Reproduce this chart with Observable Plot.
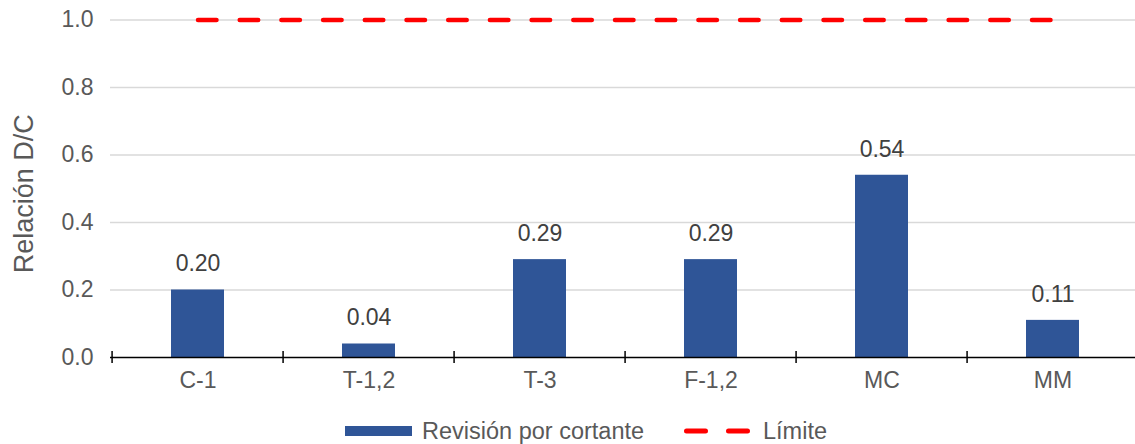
<!DOCTYPE html>
<html>
<head>
<meta charset="utf-8">
<script src="https://cdn.jsdelivr.net/npm/d3@7"></script>
<script src="https://cdn.jsdelivr.net/npm/@observablehq/plot@0.6"></script>
<style>
  html, body { margin: 0; padding: 0; background: #fff; }
  body { width: 1135px; height: 444px; overflow: hidden; font-family: "Liberation Sans", Arial, Helvetica, sans-serif; }
  #chart svg { display: block; }
  #legend { position: relative; height: 44px; font-size: 23.5px; color: #595959; }
  #legend .item { position: absolute; top: 19px; height: 24px; display: flex; align-items: center; }
</style>
</head>
<body>
<div id="chart"></div>
<div id="legend"></div>
<script>
const categories = ["C-1", "T-1,2", "T-3", "F-1,2", "MC", "MM"];
const values = [0.20, 0.04, 0.29, 0.29, 0.54, 0.11];
const limitValues = [1.0, 1.0, 1.0, 1.0, 1.0, 1.0];
const yTicks = [0.0, 0.2, 0.4, 0.6, 0.8, 1.0];
const seriesNames = ["Revisión por cortante", "Límite"];
const yTitle = "Relación D/C";

const W = 1135, H = 400;
const mLeft = 110, mRight = -6;
const step = (W - mRight - mLeft) / categories.length;
const textColor = "#595959";
const barColor = "#2f5597";
const fs = 23;
const fmt1 = d3.format(".1f"), fmt2 = d3.format(".2f");

const chart = Plot.plot({
  width: W,
  height: H,
  marginLeft: mLeft,
  marginRight: mRight,
  marginTop: 19.5,
  marginBottom: 43,
  style: { fontFamily: "'Liberation Sans', Arial, Helvetica, sans-serif", background: "#fff", overflow: "hidden" },
  x: { domain: categories, paddingInner: 0.69, paddingOuter: 0.345, axis: null },
  y: { domain: [0, 1], axis: null },
  marks: [
    Plot.gridY(yTicks.filter(d => d > 0), { stroke: "#d9d9d9", strokeOpacity: 1, strokeWidth: 1.5 }),
    Plot.axisY(yTicks, { tickSize: 0, tickPadding: 17, tickFormat: fmt1, fontSize: fs, color: textColor, label: null }),
    Plot.barY(categories, { x: d => d, y: (d, i) => values[i], fill: barColor }),
    Plot.ruleY([0], { stroke: "#000", strokeWidth: 1.5 }),
    Plot.ruleX(categories, { x: d => d, y1: 0, y2: 0, insetTop: -6, insetBottom: -6, dx: -step / 2, stroke: "#000", strokeWidth: 1.5 }),
    Plot.axisX({ tickSize: 0, tickPadding: 14, fontSize: fs, color: textColor, label: null }),
    Plot.text(categories, { x: d => d, y: (d, i) => values[i], text: (d, i) => fmt2(values[i]), dy: -26, fontSize: fs, fill: "#404040" }),
    Plot.lineY(categories, { x: d => d, y: (d, i) => limitValues[i], stroke: "#ff0000", strokeWidth: 4.5, strokeDasharray: "18.5,23.2", strokeLinecap: "round" }),
    Plot.text([yTitle], { frameAnchor: "left", textAnchor: "middle", lineAnchor: "middle", rotate: -90, dx: -86, dy: 5, fontSize: 27, fill: textColor })
  ]
});
document.getElementById("chart").appendChild(chart);

const legend = document.getElementById("legend");
legend.innerHTML = `
  <div class="item" style="left:345px">
    <span style="display:inline-block;width:67px;height:10px;background:${barColor};margin-right:10px"></span>
    <span>${seriesNames[0]}</span>
  </div>
  <div class="item" style="left:684px">
    <svg width="66" height="10" style="margin-right:13px"><line x1="2.5" y1="5" x2="63.5" y2="5" stroke="#ff0000" stroke-width="5" stroke-linecap="round" stroke-dasharray="19,23"/></svg>
    <span>${seriesNames[1]}</span>
  </div>`;
</script>
</body>
</html>
